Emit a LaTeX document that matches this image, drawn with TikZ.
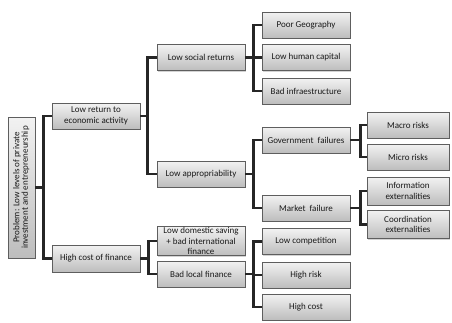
\documentclass[tikz,border=0pt]{standalone}
\usepackage{fontspec}
\setmainfont{Carlito}
\usetikzlibrary{shadows}
\definecolor{boxtop}{HTML}{F2F2F2}
\definecolor{boxbot}{HTML}{BDBDBD}
\definecolor{boxline}{HTML}{5E5E5E}

\begin{document}
\begin{tikzpicture}[x=1pt, y=-1pt,
      every node/.style={font=\fontsize{9}{10.5}\selectfont, text=black!90},
      box/.style={
        draw=boxline, thin,
        top color=boxtop, bottom color=boxbot,
        drop shadow={shadow xshift=1.2pt, shadow yshift=-1.2pt, opacity=0.35},
        minimum width=88pt, minimum height=26pt,
        inner sep=1pt, align=center
      },
      small/.style={box, minimum width=82pt},
      conn/.style={line width=2.9pt, black!85}
    ]
      \useasboundingbox (0,0) rectangle (452,322);
      % root
      \node[box, minimum width=27pt, minimum height=141pt] (root) at (21.5,187.5)
        {\rotatebox{90}{\begin{tabular}{@{}c@{}}Problem: Low levels of private\\[-2pt]investment and entrepreneurship\end{tabular}}};
      % first level
      \node[box] (ret) at (96,116) {Low return to\\economic activity};
      \node[box, minimum height=27pt] (fin) at (96,258.5) {High cost of finance};
      % second level
      \node[box] (soc) at (201,57.5) {Low social returns};
      \node[box] (app) at (201,174) {Low appropriability};
      \node[box, minimum height=28pt] (sav) at (201,241) {Low domestic saving\\+ bad international\\finance};
      \node[box] (loc) at (201,274) {Bad local finance};
      % third level
      \node[box] (geo) at (306,25) {Poor Geography};
      \node[box] (hum) at (306,57.5) {Low human capital};
      \node[box] (infra) at (306,91) {Bad infraestructure};
      \node[box] (gov) at (306,140) {Government\ \ failures};
      \node[box] (mkt) at (306,208) {Market\ \ failure};
      \node[box] (comp) at (306,241.5) {Low competition};
      \node[box] (risk) at (306,275) {High risk};
      \node[box] (cost) at (306,307) {High cost};
      % fourth level
      \node[small] (mac) at (408,125) {Macro risks};
      \node[small] (mic) at (408,157) {Micro risks};
      \node[small, minimum height=28pt] (info) at (408,191) {Information\\externalities};
      \node[small, minimum height=28pt] (coord) at (408,224.5) {Coordination\\externalities};

      % connectors
      \foreach \c in {ret,fin} \draw[conn] (root.east) -- ++(8,0) |- (\c.west);
      \foreach \c in {soc,app} \draw[conn] (ret.east) -- ++(7,0) |- (\c.west);
      \foreach \c in {sav,loc} \draw[conn] (fin.east) -- ++(8,0) |- (\c.west);
      \foreach \c in {geo,hum,infra} \draw[conn] (soc.east) -- ++(8,0) |- (\c.west);
      \foreach \c in {gov,mkt} \draw[conn] (app.east) -- ++(8,0) |- (\c.west);
      \foreach \c in {comp,risk,cost} \draw[conn] (loc.east) -- ++(8,0) |- (\c.west);
      \foreach \c in {mac,mic} \draw[conn] (gov.east) -- ++(10,0) |- (\c.west);
      \foreach \c in {info,coord} \draw[conn] (mkt.east) -- ++(10,0) |- (\c.west);
    \end{tikzpicture}
\end{document}
